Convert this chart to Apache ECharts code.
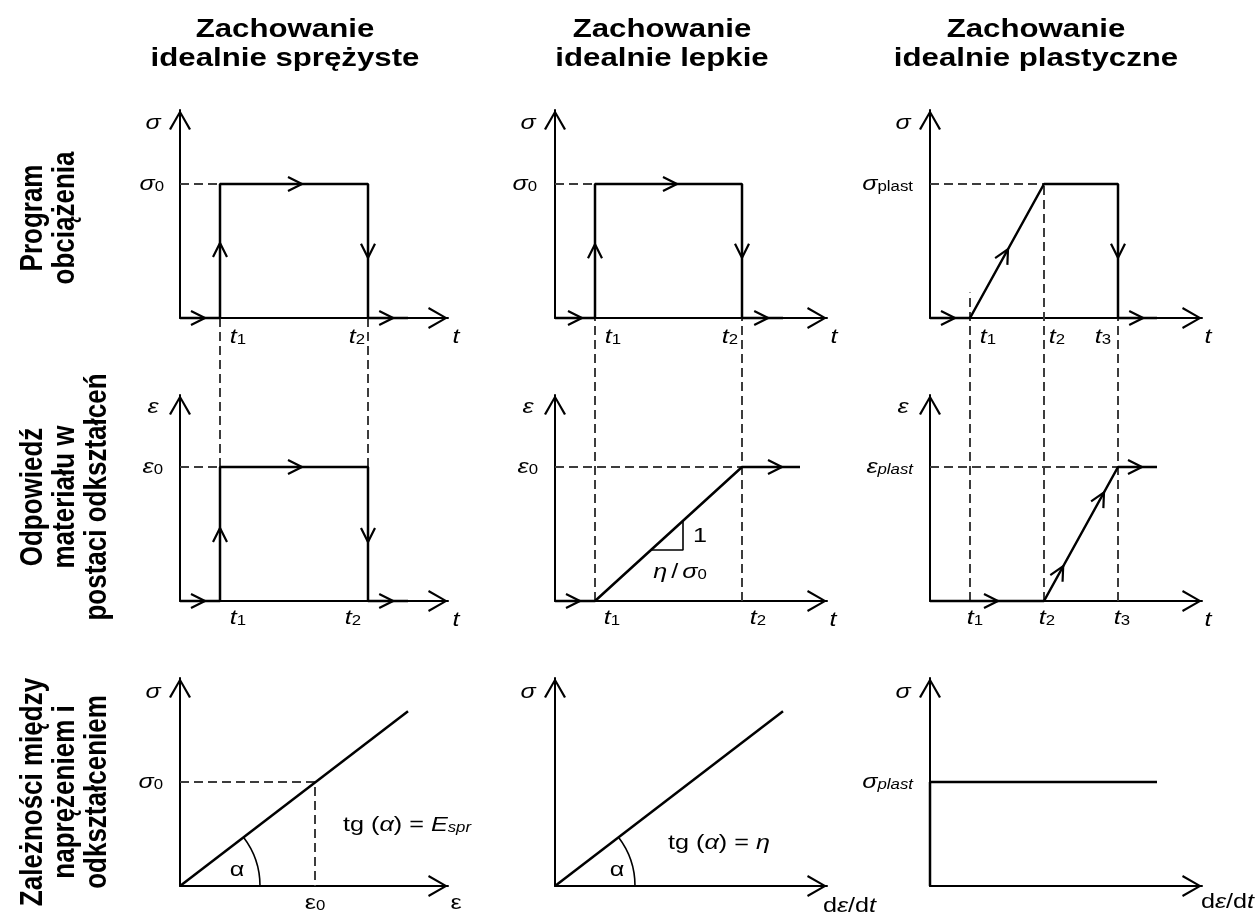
<!DOCTYPE html>
<html>
<head>
<meta charset="utf-8">
<script src="https://cdn.jsdelivr.net/npm/echarts@6/dist/echarts.min.js"></script>
<style>
  html, body { margin: 0; padding: 0; background: #fff; }
  #main { width: 1259px; height: 914px; }
</style>
</head>
<body>
<div id="main"></div>
<script>
// ---- dane (jednostki osi: t1 = 1, sigma0 = eps0 = 1) ----
const tElastic = [1, 4.7];
const tViscous = [1, 4.675];
const tPlastic = [1, 2.85, 4.7];
const sigma0 = 1, eps0 = 1, sigmaPlast = 1, epsPlast = 1;

// zachowanie sprężyste
const elasticLoad   = [[0, 0], [1, 0], [1, 1], [4.7, 1], [4.7, 0], [5.7, 0]];
const elasticStrain = [[0, 0], [1, 0], [1, 1], [4.7, 1], [4.7, 0], [5.7, 0]];
const elasticStress = [[0, 0], [5.7, 1.68]];
const eps0OnStress = 3.375;

// zachowanie lepkie
const viscousLoad   = [[0, 0], [1, 0], [1, 1], [4.675, 1], [4.675, 0], [5.7, 0]];
const viscousStrain = [[0, 0], [1, 0], [4.675, 1], [6.125, 1]];
const viscousStress = [[0, 0], [5.7, 1.68]];
const slopeTriangleX = [2.4, 3.2];

// zachowanie plastyczne
const plasticLoad   = [[0, 0], [1, 0], [2.85, 1], [4.7, 1], [4.7, 0], [5.675, 0]];
const plasticStrain = [[0, 0], [2.85, 0], [4.7, 1], [5.675, 1]];
const plasticStress = [[0, 0], [0, 1], [5.675, 1]];

// groty kierunku (położenie ostrza na linii)
const arrowsElasticLoad   = [[0.625, 0], [1, 0.56], [3.05, 1], [4.7, 0.45], [5.33, 0]];
const arrowsElasticStrain = [[0.625, 0], [1, 0.545], [3.05, 1], [4.7, 0.44], [5.33, 0]];
const arrowsViscousLoad   = [[0.675, 0], [1, 0.55], [3.05, 1], [4.675, 0.45], [5.33, 0]];
const arrowsViscousStrain = [[0.625, 0], [5.675, 1]];
const arrowsPlasticLoad   = [[0.625, 0], [1.95, 0.5135], [4.7, 0.45], [5.33, 0]];
const arrowsPlasticStrain = [[1.7, 0], [3.33, 0.26], [4.35, 0.81], [5.3, 1]];

// ---- układ ----
const colOrigin = [180, 555, 930];
const colXMax = [6.7, 6.8, 6.8];
const xUnit = 40;
const rowOrigin = [318, 601, 886];
const rowTipH = [208, 206, 208];
const rowScale = [134, 134, 104];
const rowYMax = rowTipH.map((h, i) => h / rowScale[i]);
// wiersz 1 (baseline) wyrażony we współrzędnych wiersza 2
const gapY = (rowOrigin[1] - rowOrigin[0]) / rowScale[1];

const F = '"Liberation Sans", Arial, sans-serif';
const rich = {
  i:  { fontFamily: F, fontSize: 21, fontStyle: 'italic', verticalAlign: 'bottom' },
  n:  { fontFamily: F, fontSize: 21, verticalAlign: 'bottom' },
  s:  { fontFamily: F, fontSize: 14, verticalAlign: 'bottom' },
  si: { fontFamily: F, fontSize: 14, fontStyle: 'italic', verticalAlign: 'bottom' }
};
const chevron = 'path://M0,19 L11,0 L22,19 L20,20 L11,4 L2,20 Z';

function interp(path, x) {
  for (let k = 0; k < path.length - 1; k++) {
    const a = path[k], b = path[k + 1];
    if (x >= a[0] && x <= b[0] && b[0] !== a[0]) return a[1] + (b[1] - a[1]) * (x - a[0]) / (b[0] - a[0]);
  }
  return 0;
}

function segmentDir(path, p) {
  let best = null, bestD = Infinity;
  for (let k = 0; k < path.length - 1; k++) {
    const a = path[k], b = path[k + 1];
    const dx = b[0] - a[0], dy = b[1] - a[1];
    const L2 = dx * dx + dy * dy;
    let t = ((p[0] - a[0]) * dx + (p[1] - a[1]) * dy) / L2;
    t = Math.max(0, Math.min(1, t));
    const d = Math.hypot(a[0] + t * dx - p[0], a[1] + t * dy - p[1]);
    if (d < bestD) { bestD = d; best = [dx, dy]; }
  }
  return best;
}

const grids = [], xAxes = [], yAxes = [], series = [];

function addPanel(col, row) {
  const idx = grids.length;
  grids.push({
    left: colOrigin[col], top: rowOrigin[row] - rowTipH[row],
    width: colXMax[col] * xUnit, height: rowTipH[row],
    containLabel: false, outerBoundsMode: 'none'
  });
  const axisLine = {
    show: true, onZero: true,
    symbol: ['none', chevron], symbolSize: [22, 20], symbolOffset: [0, -10],
    lineStyle: { color: '#000', width: 2 }
  };
  xAxes.push({ gridIndex: idx, type: 'value', min: 0, max: colXMax[col], axisLine: axisLine,
    axisTick: { show: false }, axisLabel: { show: false }, splitLine: { show: false } });
  yAxes.push({ gridIndex: idx, type: 'value', min: 0, max: rowYMax[row], axisLine: axisLine,
    axisTick: { show: false }, axisLabel: { show: false }, splitLine: { show: false } });
  return idx;
}

function pathSeries(idx, pts, width) {
  series.push({ type: 'line', xAxisIndex: idx, yAxisIndex: idx, data: pts, symbol: 'none',
    silent: true, clip: false, z: 4, lineStyle: { color: '#000', width: width || 2.5 } });
}

function dashSeries(idx, pts) {
  series.push({ type: 'line', xAxisIndex: idx, yAxisIndex: idx, data: pts, symbol: 'none',
    silent: true, clip: false, z: 3, lineStyle: { color: '#3c3c3c', width: 2, type: [9, 5] } });
}

function arrowSeries(idx, path, tips) {
  const data = tips.map(tp => { const d = segmentDir(path, tp); return [tp[0], tp[1], d[0], d[1]]; });
  series.push({
    type: 'custom', xAxisIndex: idx, yAxisIndex: idx, silent: true, clip: false, z: 5, data: data,
    renderItem: function (params, api) {
      const tip = api.coord([api.value(0), api.value(1)]);
      const bk = api.coord([api.value(0) - api.value(2) * 0.05, api.value(1) - api.value(3) * 0.05]);
      let ux = tip[0] - bk[0], uy = tip[1] - bk[1];
      const len = Math.hypot(ux, uy); ux /= len; uy /= len;
      const B = 14, H = 7;
      return {
        type: 'polyline',
        shape: { points: [[tip[0] - B * ux - H * uy, tip[1] - B * uy + H * ux], tip,
                          [tip[0] - B * ux + H * uy, tip[1] - B * uy - H * ux]] },
        style: { stroke: '#000', lineWidth: 2.2, fill: null }
      };
    }
  });
}

function arcSeries(idx, line) {
  series.push({
    type: 'custom', xAxisIndex: idx, yAxisIndex: idx, silent: true, clip: false, z: 5,
    data: [[line[0][0], line[0][1], line[1][0], line[1][1]]],
    renderItem: function (params, api) {
      const o = api.coord([api.value(0), api.value(1)]);
      const e = api.coord([api.value(2), api.value(3)]);
      const ang = Math.atan2(e[1] - o[1], e[0] - o[0]);
      return { type: 'arc', shape: { cx: o[0], cy: o[1], r: 80, startAngle: ang, endAngle: 0, clockwise: true },
        style: { stroke: '#000', lineWidth: 1.6, fill: null } };
    }
  });
}

function labelSeries(idx, items) {
  series.push({
    type: 'custom', xAxisIndex: idx, yAxisIndex: idx, silent: true, clip: false, z: 6,
    data: items.map(it => [it[0], it[1]]),
    renderItem: function (params, api) {
      const it = items[params.dataIndex];
      const p = api.coord([api.value(0), api.value(1)]);
      return {
        type: 'text', x: p[0] + it[3], y: p[1] + it[4], scaleX: 1.2,
        style: { x: 0, y: 0, text: it[2], rich: rich, fill: '#000',
          align: it[5] || 'center', verticalAlign: 'middle' }
      };
    }
  });
}

// ---- wiersz 1: program obciążenia ----
let p = addPanel(0, 0);
dashSeries(p, [[0, sigma0], [tElastic[0], sigma0]]);
pathSeries(p, elasticLoad);
arrowSeries(p, elasticLoad, arrowsElasticLoad);
labelSeries(p, [
  [0, rowYMax[0], '{i|σ}', -27, 13],
  [0, sigma0, '{i|σ}{s|0}', -16, 0, 'right'],
  [tElastic[0], 0, '{i|t}{s|1}', 18, 19],
  [tElastic[1], 0, '{i|t}{s|2}', -11, 19],
  [colXMax[0], 0, '{i|t}', 8, 19]
]);

p = addPanel(1, 0);
dashSeries(p, [[0, sigma0], [tViscous[0], sigma0]]);
pathSeries(p, viscousLoad);
arrowSeries(p, viscousLoad, arrowsViscousLoad);
labelSeries(p, [
  [0, rowYMax[0], '{i|σ}', -27, 13],
  [0, sigma0, '{i|σ}{s|0}', -18, 0, 'right'],
  [tViscous[0], 0, '{i|t}{s|1}', 18, 19],
  [tViscous[1], 0, '{i|t}{s|2}', -12, 19],
  [colXMax[1], 0, '{i|t}', 7, 19]
]);

p = addPanel(2, 0);
dashSeries(p, [[0, sigmaPlast], [tPlastic[1], sigmaPlast]]);
pathSeries(p, plasticLoad);
arrowSeries(p, plasticLoad, arrowsPlasticLoad);
labelSeries(p, [
  [0, rowYMax[0], '{i|σ}', -27, 13],
  [0, sigmaPlast, '{i|σ}{s|plast}', -17, 0, 'right'],
  [tPlastic[0], 0, '{i|t}{s|1}', 18, 19],
  [tPlastic[1], 0, '{i|t}{s|2}', 13, 19],
  [tPlastic[2], 0, '{i|t}{s|3}', -15, 19],
  [colXMax[2], 0, '{i|t}', 6, 19]
]);

// ---- wiersz 2: odpowiedź materiału ----
p = addPanel(0, 1);
dashSeries(p, [[0, eps0], [tElastic[0], eps0]]);
dashSeries(p, [[tElastic[0], eps0], [tElastic[0], gapY]]);
dashSeries(p, [[tElastic[1], eps0], [tElastic[1], gapY]]);
pathSeries(p, elasticStrain);
arrowSeries(p, elasticStrain, arrowsElasticStrain);
labelSeries(p, [
  [0, rowYMax[1], '{i|ε}', -27, 12],
  [0, eps0, '{i|ε}{s|0}', -17, 0, 'right'],
  [tElastic[0], 0, '{i|t}{s|1}', 18, 17],
  [tElastic[1], 0, '{i|t}{s|2}', -15, 17],
  [colXMax[0], 0, '{i|t}', 8, 19]
]);

p = addPanel(1, 1);
dashSeries(p, [[0, eps0], [tViscous[1], eps0]]);
dashSeries(p, [[tViscous[0], 0], [tViscous[0], gapY]]);
dashSeries(p, [[tViscous[1], 0], [tViscous[1], gapY]]);
pathSeries(p, viscousStrain);
const triY0 = interp(viscousStrain, slopeTriangleX[0]);
const triY1 = interp(viscousStrain, slopeTriangleX[1]);
pathSeries(p, [[slopeTriangleX[0], triY0], [slopeTriangleX[1], triY0], [slopeTriangleX[1], triY1]], 1.6);
arrowSeries(p, viscousStrain, arrowsViscousStrain);
labelSeries(p, [
  [0, rowYMax[1], '{i|ε}', -27, 12],
  [0, eps0, '{i|ε}{s|0}', -17, 0, 'right'],
  [slopeTriangleX[1], triY0, '{n|1}', 17, -14],
  [(slopeTriangleX[0] + slopeTriangleX[1]) / 2, triY0, '{i|η} {n|/} {i|σ}{s|0}', 13, 22],
  [tViscous[0], 0, '{i|t}{s|1}', 17, 17],
  [tViscous[1], 0, '{i|t}{s|2}', 16, 17],
  [colXMax[1], 0, '{i|t}', 6, 19]
]);

p = addPanel(2, 1);
dashSeries(p, [[0, epsPlast], [tPlastic[2], epsPlast]]);
dashSeries(p, [[tPlastic[0], 0], [tPlastic[0], gapY + 0.19]]);
dashSeries(p, [[tPlastic[1], 0], [tPlastic[1], gapY + sigmaPlast]]);
dashSeries(p, [[tPlastic[2], 0], [tPlastic[2], gapY]]);
pathSeries(p, plasticStrain);
arrowSeries(p, plasticStrain, arrowsPlasticStrain);
labelSeries(p, [
  [0, rowYMax[1], '{i|ε}', -27, 12],
  [0, epsPlast, '{i|ε}{si|plast}', -17, 0, 'right'],
  [tPlastic[0], 0, '{i|t}{s|1}', 5, 17],
  [tPlastic[1], 0, '{i|t}{s|2}', 3, 17],
  [tPlastic[2], 0, '{i|t}{s|3}', 4, 17],
  [colXMax[2], 0, '{i|t}', 6, 19]
]);

// ---- wiersz 3: zależności naprężenie - odkształcenie ----
p = addPanel(0, 2);
dashSeries(p, [[0, sigma0], [eps0OnStress, sigma0], [eps0OnStress, 0]]);
pathSeries(p, elasticStress);
arcSeries(p, elasticStress);
labelSeries(p, [
  [0, rowYMax[2], '{i|σ}', -27, 14],
  [0, sigma0, '{i|σ}{s|0}', -17, 0, 'right'],
  [eps0OnStress, 0, '{n|ε}{s|0}', 0, 17],
  [0, 0, '{n|α}', 57, -16],
  [eps0OnStress, 0, '{n|tg (}{i|α}{n|) = }{i|E}{si|spr}', 28, -61, 'left'],
  [colXMax[0], 0, '{n|ε}', 8, 17]
]);

p = addPanel(1, 2);
pathSeries(p, viscousStress);
arcSeries(p, viscousStress);
labelSeries(p, [
  [0, rowYMax[2], '{i|σ}', -27, 14],
  [0, 0, '{n|α}', 62, -16],
  [0, 0, '{n|tg (}{i|α}{n|) = }{i|η}', 113, -43, 'left'],
  [colXMax[1], 0, '{n|d}{i|ε}{n|/d}{i|t}', -4, 20, 'left']
]);

p = addPanel(2, 2);
pathSeries(p, plasticStress);
labelSeries(p, [
  [0, rowYMax[2], '{i|σ}', -27, 14],
  [0, sigmaPlast, '{i|σ}{si|plast}', -17, 0, 'right'],
  [colXMax[2], 0, '{n|d}{i|ε}{n|/d}{i|t}', -1, 16, 'left']
]);

// ---- nagłówki ----
const colTitles = [['Zachowanie', 'idealnie sprężyste'], ['Zachowanie', 'idealnie lepkie'], ['Zachowanie', 'idealnie plastyczne']];
const colTitleX = [285, 662, 1036];
const rowTitles = [['Program', 'obciążenia'], ['Odpowiedź', 'materiału w', 'postaci odkształceń'],
                   ['Zależności między', 'naprężeniem i', 'odkształceniem']];
const rowTitleY = [218, 497, 792];

const headStyle = { fontFamily: F, fontSize: 26, fontWeight: 'bold', fill: '#000', align: 'center', verticalAlign: 'middle' };
const graphic = [];
colTitles.forEach((lines, c) => {
  lines.forEach((txt, k) => {
    graphic.push({ type: 'text', x: colTitleX[c], y: 30 + k * 29, scaleX: 1.2,
      style: Object.assign({ text: txt, x: 0, y: 0 }, headStyle) });
  });
});
rowTitles.forEach((lines, r) => {
  lines.forEach((txt, k) => {
    graphic.push({ type: 'text', x: 33 + k * 32, y: rowTitleY[r], rotation: Math.PI / 2, scaleY: 1.2,
      style: Object.assign({ text: txt, x: 0, y: 0 }, headStyle) });
  });
});

const chart = echarts.init(document.getElementById('main'), null, { renderer: 'canvas' });
chart.setOption({
  backgroundColor: '#fff',
  animation: false,
  grid: grids,
  xAxis: xAxes,
  yAxis: yAxes,
  series: series,
  graphic: graphic
});
window.addEventListener('resize', function () { chart.resize(); });
</script>
</body>
</html>
